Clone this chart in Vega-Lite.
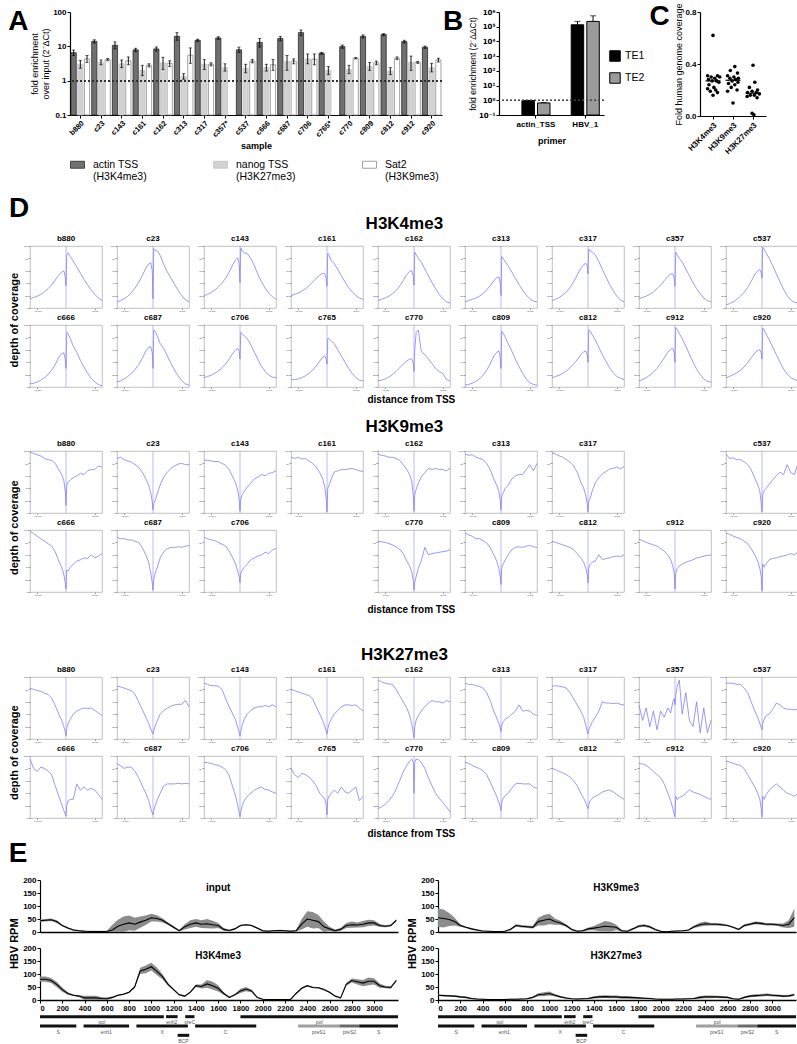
{
"$schema":"https://vega.github.io/schema/vega-lite/v6.json",
"background":"white",
"padding":{"left":1,"top":2,"right":0,"bottom":0},
"config":{
 "font":"Liberation Sans",
 "view":{"stroke":"#b0b0b0","strokeWidth":0.8},
 "axis":{"grid":false,"domainColor":"#000","tickColor":"#000","labelColor":"#000","titleColor":"#000"},
 "header":{"labelFontSize":8,"labelFontWeight":"bold","labelPadding":1,"labelFont":"Liberation Sans Narrow, Liberation Sans","labelColor":"#000"},
 "title":{"color":"#000"},
 "legend":{"labelColor":"#000"}
},
"resolve":{"scale":{"fill":"independent","stroke":"independent","color":"independent"}},
"datasets":{
 "qa":[
  {"s":"b880","t":"actin TSS (H3K4me3)","v":6.5,"lo":5.4,"hi":7.8},{"s":"b880","t":"nanog TSS (H3K27me3)","v":3.0,"lo":2.3,"hi":3.9},{"s":"b880","t":"Sat2 (H3K9me3)","v":4.3,"lo":3.4,"hi":5.4},
  {"s":"c23","t":"actin TSS (H3K4me3)","v":14,"lo":12.5,"hi":15.5},{"s":"c23","t":"nanog TSS (H3K27me3)","v":3.4,"lo":2.9,"hi":4.0},{"s":"c23","t":"Sat2 (H3K9me3)","v":4.1,"lo":3.8,"hi":4.4},
  {"s":"c143","t":"actin TSS (H3K4me3)","v":10.7,"lo":8.5,"hi":13.5},{"s":"c143","t":"nanog TSS (H3K27me3)","v":3.1,"lo":2.4,"hi":4.0},{"s":"c143","t":"Sat2 (H3K9me3)","v":3.8,"lo":2.9,"hi":4.9},
  {"s":"c161","t":"actin TSS (H3K4me3)","v":7.9,"lo":7.0,"hi":8.8},{"s":"c161","t":"nanog TSS (H3K27me3)","v":2.0,"lo":1.4,"hi":2.8},{"s":"c161","t":"Sat2 (H3K9me3)","v":2.8,"lo":2.5,"hi":3.1},
  {"s":"c162","t":"actin TSS (H3K4me3)","v":8.4,"lo":7.3,"hi":9.6},{"s":"c162","t":"nanog TSS (H3K27me3)","v":3.3,"lo":2.1,"hi":4.8},{"s":"c162","t":"Sat2 (H3K9me3)","v":3.2,"lo":2.6,"hi":3.8},
  {"s":"c313","t":"actin TSS (H3K4me3)","v":19.5,"lo":15,"hi":25},{"s":"c313","t":"nanog TSS (H3K27me3)","v":1.3,"lo":1.1,"hi":1.6},{"s":"c313","t":"Sat2 (H3K9me3)","v":5.5,"lo":3.2,"hi":9.0},
  {"s":"c317","t":"actin TSS (H3K4me3)","v":15,"lo":13.8,"hi":16.2},{"s":"c317","t":"nanog TSS (H3K27me3)","v":3.0,"lo":2.1,"hi":4.1},{"s":"c317","t":"Sat2 (H3K9me3)","v":3.0,"lo":2.7,"hi":3.3},
  {"s":"c357*","t":"actin TSS (H3K4me3)","v":17.5,"lo":16,"hi":19},{"s":"c357*","t":"nanog TSS (H3K27me3)","v":2.4,"lo":1.9,"hi":3.1},
  {"s":"c537","t":"actin TSS (H3K4me3)","v":7.9,"lo":6.6,"hi":9.5},{"s":"c537","t":"nanog TSS (H3K27me3)","v":2.3,"lo":1.7,"hi":3.0},{"s":"c537","t":"Sat2 (H3K9me3)","v":3.7,"lo":3.3,"hi":4.1},
  {"s":"c666","t":"actin TSS (H3K4me3)","v":13,"lo":9.5,"hi":17},{"s":"c666","t":"nanog TSS (H3K27me3)","v":2.4,"lo":1.9,"hi":3.0},{"s":"c666","t":"Sat2 (H3K9me3)","v":2.9,"lo":2.0,"hi":4.1},
  {"s":"c687","t":"actin TSS (H3K4me3)","v":17,"lo":14.5,"hi":19.5},{"s":"c687","t":"nanog TSS (H3K27me3)","v":3.6,"lo":2.0,"hi":5.4},{"s":"c687","t":"Sat2 (H3K9me3)","v":3.7,"lo":3.1,"hi":4.3},
  {"s":"c706","t":"actin TSS (H3K4me3)","v":25,"lo":20.5,"hi":30},{"s":"c706","t":"nanog TSS (H3K27me3)","v":4.3,"lo":3.1,"hi":6.0},{"s":"c706","t":"Sat2 (H3K9me3)","v":4.2,"lo":2.9,"hi":6.0},
  {"s":"c765*","t":"actin TSS (H3K4me3)","v":6.3,"lo":5.9,"hi":6.7},{"s":"c765*","t":"nanog TSS (H3K27me3)","v":2.0,"lo":1.5,"hi":2.6},
  {"s":"c770","t":"actin TSS (H3K4me3)","v":9.8,"lo":8.8,"hi":10.9},{"s":"c770","t":"nanog TSS (H3K27me3)","v":2.1,"lo":1.6,"hi":2.8},{"s":"c770","t":"Sat2 (H3K9me3)","v":4.5,"lo":4.3,"hi":4.7},
  {"s":"c809","t":"actin TSS (H3K4me3)","v":19.5,"lo":17.5,"hi":21.5},{"s":"c809","t":"nanog TSS (H3K27me3)","v":2.6,"lo":2.0,"hi":3.4},{"s":"c809","t":"Sat2 (H3K9me3)","v":3.3,"lo":2.9,"hi":3.7},
  {"s":"c812","t":"actin TSS (H3K4me3)","v":22,"lo":20.5,"hi":23.5},{"s":"c812","t":"nanog TSS (H3K27me3)","v":1.9,"lo":1.5,"hi":2.4},{"s":"c812","t":"Sat2 (H3K9me3)","v":4.5,"lo":4.1,"hi":4.9},
  {"s":"c912","t":"actin TSS (H3K4me3)","v":13.7,"lo":12.5,"hi":15},{"s":"c912","t":"nanog TSS (H3K27me3)","v":3.4,"lo":2.0,"hi":5.2},{"s":"c912","t":"Sat2 (H3K9me3)","v":3.4,"lo":3.2,"hi":3.6},
  {"s":"c920","t":"actin TSS (H3K4me3)","v":9.4,"lo":8.7,"hi":10.2},{"s":"c920","t":"nanog TSS (H3K27me3)","v":2.4,"lo":1.8,"hi":3.2},{"s":"c920","t":"Sat2 (H3K9me3)","v":4.0,"lo":3.5,"hi":4.5}
 ],
 "qb":[
  {"p":"actin_TSS","te":"TE1","v":0.95,"hi":0.98},{"p":"actin_TSS","te":"TE2","v":0.66,"hi":0.7},
  {"p":"HBV_1","te":"TE1","v":135000,"hi":230000},{"p":"HBV_1","te":"TE2","v":230000,"hi":550000}
 ],
 "qc":[
  {"m":"H3K4me3","v":0.62,"j":0.0},{"m":"H3K4me3","v":0.31,"j":-0.6},{"m":"H3K4me3","v":0.31,"j":0.5},{"m":"H3K4me3","v":0.30,"j":-0.2},{"m":"H3K4me3","v":0.30,"j":0.75},{"m":"H3K4me3","v":0.29,"j":0.2},{"m":"H3K4me3","v":0.28,"j":-0.5},{"m":"H3K4me3","v":0.27,"j":0.4},{"m":"H3K4me3","v":0.27,"j":-0.1},{"m":"H3K4me3","v":0.26,"j":0.65},{"m":"H3K4me3","v":0.24,"j":-0.45},{"m":"H3K4me3","v":0.22,"j":0.1},{"m":"H3K4me3","v":0.21,"j":-0.6},{"m":"H3K4me3","v":0.20,"j":0.3},{"m":"H3K4me3","v":0.19,"j":-0.3},{"m":"H3K4me3","v":0.18,"j":0.5},{"m":"H3K4me3","v":0.16,"j":0.0},
  {"m":"H3K9me3","v":0.38,"j":0.2},{"m":"H3K9me3","v":0.35,"j":-0.3},{"m":"H3K9me3","v":0.33,"j":0.5},{"m":"H3K9me3","v":0.31,"j":-0.6},{"m":"H3K9me3","v":0.30,"j":0.1},{"m":"H3K9me3","v":0.29,"j":0.6},{"m":"H3K9me3","v":0.29,"j":-0.35},{"m":"H3K9me3","v":0.28,"j":0.3},{"m":"H3K9me3","v":0.27,"j":-0.1},{"m":"H3K9me3","v":0.26,"j":0.55},{"m":"H3K9me3","v":0.25,"j":-0.5},{"m":"H3K9me3","v":0.24,"j":0.2},{"m":"H3K9me3","v":0.22,"j":-0.2},{"m":"H3K9me3","v":0.20,"j":0.45},{"m":"H3K9me3","v":0.19,"j":-0.6},{"m":"H3K9me3","v":0.10,"j":0.0},
  {"m":"H3K27me3","v":0.39,"j":0.0},{"m":"H3K27me3","v":0.26,"j":0.2},{"m":"H3K27me3","v":0.22,"j":-0.4},{"m":"H3K27me3","v":0.20,"j":0.5},{"m":"H3K27me3","v":0.19,"j":-0.1},{"m":"H3K27me3","v":0.18,"j":0.35},{"m":"H3K27me3","v":0.18,"j":-0.6},{"m":"H3K27me3","v":0.17,"j":0.7},{"m":"H3K27me3","v":0.16,"j":-0.3},{"m":"H3K27me3","v":0.16,"j":0.15},{"m":"H3K27me3","v":0.15,"j":-0.65},{"m":"H3K27me3","v":0.14,"j":0.45},{"m":"H3K27me3","v":0.02,"j":-0.1},{"m":"H3K27me3","v":0.01,"j":0.1}
 ],
 "k4":[
  {"s":"b880","x":[-2500,-2250,-2000,-1750,-1500,-1250,-1000,-750,-500,-300,-150,-50,0,50,150,300,500,750,1000,1250,1500,1750,2000,2250,2500],"y":[15,17,19,22,26,31,37,45,53,58,60,50,36,85,89,83,76,66,56,46,37,29,22,16,12]},
  {"s":"c23","x":[-2500,-2250,-2000,-1750,-1500,-1250,-1000,-750,-500,-300,-150,-50,0,50,150,300,500,750,1000,1250,1500,1750,2000,2250,2500],"y":[10,12,15,19,25,32,41,52,64,71,73,60,15,96,93,92,85,70,58,48,38,28,20,13,10]},
  {"s":"c143","x":[-2500,-2250,-2000,-1750,-1500,-1250,-1000,-750,-500,-300,-150,-50,0,50,150,300,500,750,1000,1250,1500,1750,2000,2250,2500],"y":[20,22,25,29,34,40,48,58,70,78,81,70,41,97,92,89,88,80,68,54,42,32,24,18,14]},
  {"s":"c161","x":[-2500,-2250,-2000,-1750,-1500,-1250,-1000,-750,-500,-300,-150,-50,0,50,150,300,500,750,1000,1250,1500,1750,2000,2250,2500],"y":[20,22,24,27,31,36,42,48,53,56,55,47,35,88,85,76,72,62,52,42,33,26,20,16,14]},
  {"s":"c162","x":[-2500,-2250,-2000,-1750,-1500,-1250,-1000,-750,-500,-300,-150,-50,0,50,150,300,500,750,1000,1250,1500,1750,2000,2250,2500],"y":[12,14,16,19,23,28,35,44,54,59,60,52,37,90,86,80,74,63,52,41,31,22,15,10,8]},
  {"s":"c313","x":[-2500,-2250,-2000,-1750,-1500,-1250,-1000,-750,-500,-300,-150,-50,0,50,150,300,500,750,1000,1250,1500,1750,2000,2250,2500],"y":[10,12,14,16,19,23,29,36,44,49,50,40,20,83,80,74,68,58,48,38,29,21,15,11,10]},
  {"s":"c317","x":[-2500,-2250,-2000,-1750,-1500,-1250,-1000,-750,-500,-300,-150,-50,0,50,150,300,500,750,1000,1250,1500,1750,2000,2250,2500],"y":[12,14,17,21,26,33,42,53,64,70,72,68,55,95,92,90,86,75,62,50,38,28,19,13,10]},
  {"s":"c357","x":[-2500,-2250,-2000,-1750,-1500,-1250,-1000,-750,-500,-300,-150,-50,0,50,150,300,500,750,1000,1250,1500,1750,2000,2250,2500],"y":[15,17,19,22,26,31,37,44,51,55,55,47,35,90,86,80,74,63,52,41,31,23,16,12,10]},
  {"s":"c537","x":[-2500,-2250,-2000,-1750,-1500,-1250,-1000,-750,-500,-300,-150,-50,0,50,150,300,500,750,1000,1250,1500,1750,2000,2250,2500],"y":[5,7,10,14,19,25,33,43,54,60,62,57,48,98,95,88,80,68,55,42,30,20,13,9,8]},
  {"s":"c666","x":[-2500,-2250,-2000,-1750,-1500,-1250,-1000,-750,-500,-300,-150,-50,0,50,150,300,500,750,1000,1250,1500,1750,2000,2250,2500],"y":[5,6,8,11,15,20,27,36,48,54,55,45,30,88,86,78,66,56,43,32,22,14,8,4,2]},
  {"s":"c687","x":[-2500,-2250,-2000,-1750,-1500,-1250,-1000,-750,-500,-300,-150,-50,0,50,150,300,500,750,1000,1250,1500,1750,2000,2250,2500],"y":[8,10,13,17,22,28,36,46,58,64,65,55,30,92,90,82,70,62,50,38,27,18,10,5,3]},
  {"s":"c706","x":[-2500,-2250,-2000,-1750,-1500,-1250,-1000,-750,-500,-300,-150,-50,0,50,150,300,500,750,1000,1250,1500,1750,2000,2250,2500],"y":[15,17,19,22,26,31,37,45,54,60,62,57,45,88,86,82,78,68,56,44,33,25,19,16,15]},
  {"s":"c765","x":[-2500,-2250,-2000,-1750,-1500,-1250,-1000,-750,-500,-300,-150,-50,0,50,150,300,500,750,1000,1250,1500,1750,2000,2250,2500],"y":[12,12,13,15,18,22,27,34,42,48,50,45,37,78,78,74,70,60,50,40,30,22,15,11,10]},
  {"s":"c770","x":[-2500,-2250,-2000,-1750,-1500,-1250,-1000,-750,-500,-300,-150,-50,0,50,150,300,500,750,1000,1250,1500,1750,2000,2250,2500],"y":[10,11,13,16,20,25,31,37,42,45,45,38,25,60,88,92,58,52,45,38,30,25,22,12,10]},
  {"s":"c809","x":[-2500,-2250,-2000,-1750,-1500,-1250,-1000,-750,-500,-300,-150,-50,0,50,150,300,500,750,1000,1250,1500,1750,2000,2250,2500],"y":[3,4,6,9,13,19,27,37,50,56,58,48,30,90,87,80,70,58,45,33,22,13,7,4,3]},
  {"s":"c812","x":[-2500,-2250,-2000,-1750,-1500,-1250,-1000,-750,-500,-300,-150,-50,0,50,150,300,500,750,1000,1250,1500,1750,2000,2250,2500],"y":[15,17,19,22,26,31,37,44,52,57,58,52,40,92,90,84,76,64,52,41,31,23,17,14,12]},
  {"s":"c912","x":[-2500,-2250,-2000,-1750,-1500,-1250,-1000,-750,-500,-300,-150,-50,0,50,150,300,500,750,1000,1250,1500,1750,2000,2250,2500],"y":[10,12,15,19,24,30,38,47,56,61,62,55,40,96,93,86,78,66,53,40,29,20,13,9,8]},
  {"s":"c920","x":[-2500,-2250,-2000,-1750,-1500,-1250,-1000,-750,-500,-300,-150,-50,0,50,150,300,500,750,1000,1250,1500,1750,2000,2250,2500],"y":[15,17,20,23,27,32,39,47,55,59,60,55,45,95,92,85,76,64,52,40,29,21,15,12,10]}
 ],
 "k9":[
  {"s":"b880","x":[-2500,-2250,-2000,-1750,-1500,-1250,-1000,-750,-500,-300,-150,-50,0,50,150,300,500,750,1000,1250,1500,1750,2000,2250,2500],"y":[98,96,94,92,88,86,85,80,70,62,52,35,12,45,50,53,57,60,64,62,68,70,70,76,74]},
  {"s":"c23","x":[-2500,-2250,-2000,-1750,-1500,-1250,-1000,-750,-500,-300,-150,-50,0,50,150,300,500,750,1000,1250,1500,1750,2000,2250,2500],"y":[88,90,86,84,82,78,74,66,55,45,32,18,5,15,20,32,45,58,66,72,76,79,80,78,78]},
  {"s":"c143","x":[-2500,-2250,-2000,-1750,-1500,-1250,-1000,-750,-500,-300,-150,-50,0,50,150,300,500,750,1000,1250,1500,1750,2000,2250,2500],"y":[85,85,84,83,83,80,77,70,58,48,36,20,3,22,30,35,42,48,55,58,62,60,64,65,68]},
  {"s":"c161","x":[-2500,-2250,-2000,-1750,-1500,-1250,-1000,-750,-500,-300,-150,-50,0,50,150,300,500,750,1000,1250,1500,1750,2000,2250,2500],"y":[90,88,90,87,88,84,80,74,65,55,42,22,2,40,45,55,66,68,70,70,71,72,70,68,67]},
  {"s":"c162","x":[-2500,-2250,-2000,-1750,-1500,-1250,-1000,-750,-500,-300,-150,-50,0,50,150,300,500,750,1000,1250,1500,1750,2000,2250,2500],"y":[95,93,92,90,90,88,85,78,70,62,50,28,3,30,38,48,58,65,72,70,72,70,70,68,72]},
  {"s":"c313","x":[-2500,-2250,-2000,-1750,-1500,-1250,-1000,-750,-500,-300,-150,-50,0,50,150,300,500,750,1000,1250,1500,1750,2000,2250,2500],"y":[95,93,94,90,88,86,80,70,55,45,35,20,5,28,32,40,45,55,60,62,62,70,78,68,80]},
  {"s":"c317","x":[-2500,-2250,-2000,-1750,-1500,-1250,-1000,-750,-500,-300,-150,-50,0,50,150,300,500,750,1000,1250,1500,1750,2000,2250,2500],"y":[97,95,92,90,86,82,76,66,50,40,28,14,2,18,24,36,48,57,63,67,71,72,74,71,75]},
  {"s":"c537","x":[-2500,-2250,-2000,-1750,-1500,-1250,-1000,-750,-500,-300,-150,-50,0,50,150,300,500,750,1000,1250,1500,1750,2000,2250,2500],"y":[95,88,89,86,86,83,78,70,56,46,35,15,2,30,36,40,46,54,60,66,62,78,65,62,80]},
  {"s":"c666","x":[-2500,-2250,-2000,-1750,-1500,-1250,-1000,-750,-500,-300,-150,-50,0,50,150,300,500,750,1000,1250,1500,1750,2000,2250,2500],"y":[98,94,90,86,82,78,74,65,50,40,28,15,5,35,34,40,45,50,52,55,54,60,55,58,62]},
  {"s":"c687","x":[-2500,-2250,-2000,-1750,-1500,-1250,-1000,-750,-500,-300,-150,-50,0,50,150,300,500,750,1000,1250,1500,1750,2000,2250,2500],"y":[88,86,86,84,84,82,80,72,60,48,30,15,3,20,30,40,55,65,70,72,72,73,72,74,75]},
  {"s":"c706","x":[-2500,-2250,-2000,-1750,-1500,-1250,-1000,-750,-500,-300,-150,-50,0,50,150,300,500,750,1000,1250,1500,1750,2000,2250,2500],"y":[88,86,84,83,80,77,74,66,55,45,32,24,15,30,35,40,45,52,55,58,60,64,62,68,70]},
  {"s":"c770","x":[-2500,-2250,-2000,-1750,-1500,-1250,-1000,-750,-500,-300,-150,-50,0,50,150,300,500,750,1000,1250,1500,1750,2000,2250,2500],"y":[82,81,80,78,76,73,69,62,50,42,32,18,3,15,25,38,50,72,60,62,63,64,65,66,68]},
  {"s":"c809","x":[-2500,-2250,-2000,-1750,-1500,-1250,-1000,-750,-500,-300,-150,-50,0,50,150,300,500,750,1000,1250,1500,1750,2000,2250,2500],"y":[95,92,90,86,86,83,79,72,60,50,38,25,12,40,45,52,60,68,72,73,72,74,75,73,72]},
  {"s":"c812","x":[-2500,-2250,-2000,-1750,-1500,-1250,-1000,-750,-500,-300,-150,-50,0,50,150,300,500,750,1000,1250,1500,1750,2000,2250,2500],"y":[82,80,78,76,74,72,68,62,55,48,38,28,15,38,45,48,50,60,52,54,55,57,58,57,60]},
  {"s":"c912","x":[-2500,-2250,-2000,-1750,-1500,-1250,-1000,-750,-500,-300,-150,-50,0,50,150,300,500,750,1000,1250,1500,1750,2000,2250,2500],"y":[85,83,80,78,76,74,70,66,60,52,42,30,5,30,38,42,45,48,50,52,55,56,58,59,60]},
  {"s":"c920","x":[-2500,-2250,-2000,-1750,-1500,-1250,-1000,-750,-500,-300,-150,-50,0,50,150,300,500,750,1000,1250,1500,1750,2000,2250,2500],"y":[95,93,90,88,86,82,78,70,60,50,38,25,2,45,40,46,52,54,55,57,58,60,62,60,65]}
 ],
 "k27":[
  {"s":"b880","x":[-2500,-2250,-2000,-1750,-1500,-1250,-1000,-750,-500,-300,-150,-50,0,50,150,300,500,750,1000,1250,1500,1750,2000,2250,2500],"y":[82,80,78,77,74,72,66,54,40,30,20,12,5,18,25,32,40,45,48,50,49,50,46,42,38]},
  {"s":"c23","x":[-2500,-2250,-2000,-1750,-1500,-1250,-1000,-750,-500,-300,-150,-50,0,50,150,300,500,750,1000,1250,1500,1750,2000,2250,2500],"y":[85,84,82,80,78,72,60,48,35,25,16,10,8,14,20,30,40,46,50,53,55,56,56,62,52]},
  {"s":"c143","x":[-2500,-2250,-2000,-1750,-1500,-1250,-1000,-750,-500,-300,-150,-50,0,50,150,300,500,750,1000,1250,1500,1750,2000,2250,2500],"y":[90,88,86,86,85,80,65,52,40,30,18,10,5,12,22,32,40,46,50,52,52,54,52,55,52]},
  {"s":"c161","x":[-2500,-2250,-2000,-1750,-1500,-1250,-1000,-750,-500,-300,-150,-50,0,50,150,300,500,750,1000,1250,1500,1750,2000,2250,2500],"y":[80,78,76,74,72,70,65,52,40,30,20,12,8,16,25,32,40,46,52,55,55,54,55,50,45]},
  {"s":"c162","x":[-2500,-2250,-2000,-1750,-1500,-1250,-1000,-750,-500,-300,-150,-50,0,50,150,300,500,750,1000,1250,1500,1750,2000,2250,2500],"y":[95,92,90,89,88,80,70,60,50,38,24,10,2,20,30,38,45,52,58,62,60,60,58,62,60]},
  {"s":"c313","x":[-2500,-2250,-2000,-1750,-1500,-1250,-1000,-750,-500,-300,-150,-50,0,50,150,300,500,750,1000,1250,1500,1750,2000,2250,2500],"y":[90,88,88,86,85,82,75,62,45,34,25,18,12,22,28,32,35,40,45,55,45,46,45,40,38]},
  {"s":"c317","x":[-2500,-2250,-2000,-1750,-1500,-1250,-1000,-750,-500,-300,-150,-50,0,50,150,300,500,750,1000,1250,1500,1750,2000,2250,2500],"y":[85,86,85,84,82,75,65,55,45,35,22,12,8,15,20,28,35,45,60,58,58,57,58,56,55]},
  {"s":"c357","x":[-2500,-2250,-2000,-1750,-1500,-1250,-1000,-750,-500,-300,-150,-50,0,50,150,300,500,750,1000,1250,1500,1750,2000,2250,2500],"y":[55,30,50,20,45,15,45,35,50,42,60,65,55,70,85,95,40,75,30,20,60,10,50,10,30]},
  {"s":"c537","x":[-2500,-2250,-2000,-1750,-1500,-1250,-1000,-750,-500,-300,-150,-50,0,50,150,300,500,750,1000,1250,1500,1750,2000,2250,2500],"y":[90,90,90,88,88,82,75,60,45,35,25,18,15,25,32,38,40,48,58,55,50,48,48,47,48]},
  {"s":"c666","x":[-2500,-2250,-2000,-1750,-1500,-1250,-1000,-750,-500,-300,-150,-50,0,50,150,300,500,750,1000,1250,1500,1750,2000,2250,2500],"y":[95,80,75,82,80,76,70,52,35,22,12,6,3,20,28,30,30,55,45,50,45,48,45,38,30]},
  {"s":"c687","x":[-2500,-2250,-2000,-1750,-1500,-1250,-1000,-750,-500,-300,-150,-50,0,50,150,300,500,750,1000,1250,1500,1750,2000,2250,2500],"y":[88,84,80,82,82,75,65,52,40,28,15,8,5,12,20,30,40,52,55,55,55,56,55,56,55]},
  {"s":"c706","x":[-2500,-2250,-2000,-1750,-1500,-1250,-1000,-750,-500,-300,-150,-50,0,50,150,300,500,750,1000,1250,1500,1750,2000,2250,2500],"y":[90,89,88,86,85,82,78,68,50,35,20,8,2,10,20,28,35,40,45,48,50,46,45,42,40]},
  {"s":"c765","x":[-2500,-2250,-2000,-1750,-1500,-1250,-1000,-750,-500,-300,-150,-50,0,50,150,300,500,750,1000,1250,1500,1750,2000,2250,2500],"y":[80,70,65,72,70,66,60,52,40,35,30,20,5,30,35,40,45,40,50,42,40,45,50,28,35]},
  {"s":"c770","x":[-2500,-2250,-2000,-1750,-1500,-1250,-1000,-750,-500,-300,-150,-50,0,50,150,300,500,750,1000,1250,1500,1750,2000,2250,2500],"y":[15,18,22,28,35,46,60,74,85,92,95,90,40,90,95,94,90,80,65,52,40,32,25,18,10]},
  {"s":"c809","x":[-2500,-2250,-2000,-1750,-1500,-1250,-1000,-750,-500,-300,-150,-50,0,50,150,300,500,750,1000,1250,1500,1750,2000,2250,2500],"y":[90,88,85,82,80,76,70,58,45,35,25,18,12,25,32,36,40,48,55,56,55,55,55,50,48]},
  {"s":"c812","x":[-2500,-2250,-2000,-1750,-1500,-1250,-1000,-750,-500,-300,-150,-50,0,50,150,300,500,750,1000,1250,1500,1750,2000,2250,2500],"y":[80,78,75,73,70,66,60,52,40,32,24,18,15,22,28,32,35,38,42,44,45,42,38,34,30]},
  {"s":"c912","x":[-2500,-2250,-2000,-1750,-1500,-1250,-1000,-750,-500,-300,-150,-50,0,50,150,300,500,750,1000,1250,1500,1750,2000,2250,2500],"y":[88,87,85,80,75,70,65,55,40,28,15,6,2,35,30,33,35,40,45,42,40,38,35,32,30]},
  {"s":"c920","x":[-2500,-2250,-2000,-1750,-1500,-1250,-1000,-750,-500,-300,-150,-50,0,50,150,300,500,750,1000,1250,1500,1750,2000,2250,2500],"y":[92,90,88,86,85,80,70,60,50,40,30,15,2,35,30,38,45,50,55,50,45,40,38,35,40]}
 ],
 "hbv":[
  {"t":"input","x":[0,50,100,150,200,250,300,350,400,450,500,550,600,650,700,750,800,850,900,950,1000,1050,1100,1150,1200,1250,1300,1350,1400,1450,1500,1550,1600,1650,1700,1750,1800,1850,1900,1950,2000,2050,2100,2150,2200,2250,2300,2350,2400,2450,2500,2550,2600,2650,2700,2750,2800,2850,2900,2950,3000,3050,3100,3150,3200],
   "y":[43,45,47,40,25,15,8,5,3,2,2,2,2,8,22,30,35,30,38,45,55,52,45,32,18,5,20,30,35,30,32,28,25,10,6,12,25,28,25,15,5,3,5,6,5,3,5,30,50,45,40,20,12,5,10,25,28,27,30,35,35,25,22,25,45],
   "d":[5,5,5,5,3,3,3,3,3,3,3,3,3,20,25,30,28,25,22,18,15,12,8,5,5,3,10,15,15,15,18,15,10,5,3,3,3,3,3,3,3,3,3,3,3,3,3,20,30,32,25,20,8,5,5,10,12,10,12,12,10,6,4,4,5]},
  {"t":"H3K4me3","x":[0,50,100,150,200,250,300,350,400,450,500,550,600,650,700,750,800,850,900,950,1000,1050,1100,1150,1200,1250,1300,1350,1400,1450,1500,1550,1600,1650,1700,1750,1800,1850,1900,1950,2000,2050,2100,2150,2200,2250,2300,2350,2400,2450,2500,2550,2600,2650,2700,2750,2800,2850,2900,2950,3000,3050,3100,3150,3200],
   "y":[80,80,75,60,40,25,18,15,8,8,8,6,5,10,18,22,30,50,112,118,128,110,90,60,40,20,15,30,55,52,62,55,45,25,10,20,35,42,35,10,3,2,2,2,2,2,25,45,55,48,47,40,30,15,8,60,75,70,65,72,72,55,50,48,75],
   "d":[10,10,10,10,8,5,3,3,8,8,8,6,5,3,3,3,3,5,12,15,15,15,10,5,3,3,3,3,5,8,15,15,12,5,3,3,8,8,5,3,2,2,2,2,2,2,3,3,3,3,3,3,3,3,3,5,8,10,12,15,12,8,5,5,5]},
  {"t":"H3K9me3","x":[0,50,100,150,200,250,300,350,400,450,500,550,600,650,700,750,800,850,900,950,1000,1050,1100,1150,1200,1250,1300,1350,1400,1450,1500,1550,1600,1650,1700,1750,1800,1850,1900,1950,2000,2050,2100,2150,2200,2250,2300,2350,2400,2450,2500,2550,2600,2650,2700,2750,2800,2850,2900,2950,3000,3050,3100,3150,3200],
   "y":[55,52,48,40,25,18,12,8,4,3,2,2,3,10,25,22,20,18,40,45,50,40,35,25,10,3,5,12,15,18,22,20,18,5,3,12,22,25,20,10,3,1,3,4,5,8,20,28,32,30,30,28,25,18,10,25,30,35,33,30,30,28,25,30,55],
   "d":[35,35,25,15,5,3,3,3,2,2,2,2,2,3,5,5,5,5,15,20,20,12,8,5,3,3,3,5,8,15,20,18,10,3,2,3,5,5,5,3,2,2,2,2,2,2,5,8,8,5,5,5,3,3,3,5,5,5,5,5,5,5,8,15,35]},
  {"t":"H3K27me3","x":[0,50,100,150,200,250,300,350,400,450,500,550,600,650,700,750,800,850,900,950,1000,1050,1100,1150,1200,1250,1300,1350,1400,1450,1500,1550,1600,1650,1700,1750,1800,1850,1900,1950,2000,2050,2100,2150,2200,2250,2300,2350,2400,2450,2500,2550,2600,2650,2700,2750,2800,2850,2900,2950,3000,3050,3100,3150,3200],
   "y":[18,17,16,15,12,10,6,4,3,2,2,2,2,3,3,4,5,10,20,22,25,18,12,8,5,4,5,6,10,12,13,12,12,10,10,9,8,7,6,4,3,3,3,4,4,5,6,10,12,12,12,11,10,5,3,10,15,17,18,20,18,17,15,16,20],
   "d":[3,3,3,3,3,3,3,2,2,2,2,2,2,2,2,2,2,3,6,8,8,5,3,3,2,2,2,3,4,5,5,5,5,5,5,4,4,3,3,2,2,2,2,2,2,2,3,5,5,5,4,4,3,2,2,3,4,5,5,5,5,4,4,4,4]}
 ],
 "genes":[
  {"f":"pol","lane":1,"a":0,"b":1112},{"f":"enh2","lane":1,"a":1132,"b":1236},{"f":"preC","lane":1,"a":1304,"b":1387},{"f":"pol","lane":1,"a":1800,"b":3215},
  {"f":"S","lane":2,"a":0,"b":326},{"f":"enh1","lane":2,"a":391,"b":800},{"f":"X","lane":2,"a":866,"b":1328},{"f":"C","lane":2,"a":1393,"b":1942},{"f":"preS1","lane":2,"a":2318,"b":2689},{"f":"preS2","lane":2,"a":2689,"b":2867},{"f":"S","lane":2,"a":2867,"b":3215},
  {"f":"BCP","lane":3,"a":1236,"b":1340}
 ]
},
"vconcat":[
 {"hconcat":[
  {"width":1,"height":1,"view":{"stroke":null},"data":{"values":[{"a":0}]},"mark":{"type":"point","opacity":0},"encoding":{}},
  {"hconcat":[
  {"width":372,"height":103,"view":{"stroke":null},
   "title":{"text":"A","orient":"left","anchor":"end","angle":0,"fontSize":28,"fontWeight":"bold","baseline":"top","offset":-18},
   "data":{"name":"qa"},
   "layer":[
    {"mark":{"type":"bar","strokeWidth":0.8},
     "encoding":{
      "x":{"field":"s","type":"nominal","sort":null,"scale":{"paddingInner":0.1,"paddingOuter":0.05},"axis":{"title":"sample","labelAngle":-45,"labelFontSize":7.5,"labelFontWeight":"bold","titleFontSize":9,"titleFontWeight":"bold","tickSize":3,"labelPadding":1,"titlePadding":3,"domainWidth":1.2}},
      "xOffset":{"field":"t","type":"nominal","sort":null,"scale":{"paddingInner":0.22}},
      "y":{"field":"v","type":"quantitative","scale":{"type":"log","domain":[0.1,100]},"axis":{"values":[0.1,1,10,100],"format":"~g","labelFontSize":8,"labelFontWeight":"bold","tickSize":3,"labelPadding":1,"domainWidth":1.2,"title":["fold enrichment","over input (2⁻ΔCt)"],"titleFontSize":9,"titleFontWeight":"normal","titlePadding":2}},
      "y2":{"datum":0.1},
      "fill":{"field":"t","type":"nominal","scale":{"domain":["actin TSS (H3K4me3)","nanog TSS (H3K27me3)","Sat2 (H3K9me3)"],"range":["#707070","#d2d2d2","#ffffff"]},
        "legend":{"orient":"bottom","direction":"horizontal","title":null,"columns":3,"columnPadding":64,"labelExpr":"[split(datum.label,' (')[0], '(' + split(datum.label,' (')[1]]","labelFontSize":10.5,"symbolType":"M-1,-0.5H1V0.5H-1Z","symbolSize":196,"symbolStrokeColor":"#555","symbolStrokeWidth":0.8,"offset":6,"labelOffset":8}},
      "stroke":{"field":"t","type":"nominal","scale":{"domain":["actin TSS (H3K4me3)","nanog TSS (H3K27me3)","Sat2 (H3K9me3)"],"range":["#2a2a2a","#c4c4c4","#8a8a8a"]},"legend":null}
     }},
    {"mark":{"type":"rule","strokeWidth":0.9,"color":"#000"},"encoding":{"x":{"field":"s","type":"nominal","sort":null},"xOffset":{"field":"t","type":"nominal","sort":null},"y":{"field":"lo","type":"quantitative"},"y2":{"field":"hi"}}},
    {"mark":{"type":"tick","size":3,"thickness":0.9,"color":"#000"},"encoding":{"x":{"field":"s","type":"nominal","sort":null},"xOffset":{"field":"t","type":"nominal","sort":null},"y":{"field":"lo","type":"quantitative"}}},
    {"mark":{"type":"tick","size":3,"thickness":0.9,"color":"#000"},"encoding":{"x":{"field":"s","type":"nominal","sort":null},"xOffset":{"field":"t","type":"nominal","sort":null},"y":{"field":"hi","type":"quantitative"}}},
    {"mark":{"type":"rule","strokeDash":[2,2],"strokeWidth":0.8,"color":"#333"},"encoding":{"y":{"datum":1}}}
   ]},
  {"hconcat":[
   {"width":105,"height":103,"view":{"stroke":null},
    "title":{"text":"B","orient":"left","anchor":"end","angle":0,"fontSize":28,"fontWeight":"bold","baseline":"top","offset":-15},
    "data":{"name":"qb"},
    "layer":[
     {"mark":{"type":"bar","stroke":"#000","strokeWidth":1},
      "encoding":{
       "x":{"field":"p","type":"nominal","sort":null,"scale":{"paddingInner":0.43,"paddingOuter":0.28,"align":0.83},"axis":{"title":"primer","labelAngle":0,"labelFontSize":8,"labelFontWeight":"bold","titleFontSize":9,"titleFontWeight":"bold","tickSize":3,"domainWidth":1.2,"titlePadding":8}},
       "xOffset":{"field":"te","type":"nominal","scale":{"paddingInner":0.2}},
       "y":{"field":"v","type":"quantitative","scale":{"type":"log","domain":[0.1,1000000]},"axis":{"values":[0.1,1,10,100,1000,10000,100000,1000000],"labelExpr":"'10' + (datum.value < 0.5 ? '⁻¹' : ['⁰','¹','²','³','⁴','⁵','⁶'][round(log(datum.value)/LN10)])","labelFont":"DejaVu Sans","labelFontSize":7,"labelFontWeight":"bold","tickSize":3,"labelPadding":1,"domainWidth":1.2,"title":"fold enrichment (2⁻ΔΔCt)","titleFontSize":8.5,"titleFontWeight":"normal","titlePadding":1}},
       "y2":{"datum":0.1},
       "fill":{"field":"te","type":"nominal","scale":{"range":["#000000","#9b9b9b"]},"legend":{"orient":"none","legendX":110,"legendY":38,"title":null,"symbolType":"square","symbolSize":110,"symbolStrokeColor":"#000","symbolStrokeWidth":1,"labelFontSize":10.5,"rowPadding":6}}
      }},
     {"mark":{"type":"rule","strokeWidth":1,"color":"#000"},"encoding":{"x":{"field":"p","type":"nominal","sort":null},"xOffset":{"field":"te","type":"nominal"},"y":{"field":"v","type":"quantitative"},"y2":{"field":"hi"}}},
     {"mark":{"type":"tick","size":6,"thickness":1,"color":"#000"},"encoding":{"x":{"field":"p","type":"nominal","sort":null},"xOffset":{"field":"te","type":"nominal"},"y":{"field":"hi","type":"quantitative"}}},
     {"mark":{"type":"rule","strokeDash":[2,2],"strokeWidth":0.8,"color":"#444"},"encoding":{"y":{"datum":1}}}
    ]},
   {"width":66,"height":104,"view":{"stroke":null},
    "title":{"text":"C","orient":"left","anchor":"end","angle":0,"fontSize":28,"fontWeight":"bold","baseline":"top","offset":-15},
    "data":{"name":"qc"},
    "layer":[
     {"mark":{"type":"circle","size":13,"color":"#000","opacity":1},
      "encoding":{
       "x":{"field":"m","type":"nominal","sort":["H3K4me3","H3K9me3","H3K27me3"],"scale":{"paddingInner":0.1,"paddingOuter":0.2},"axis":{"title":null,"labelAngle":-45,"labelFontSize":8,"labelFontWeight":"bold","tickSize":3,"domainWidth":1.2}},
       "xOffset":{"field":"j","type":"quantitative","scale":{"domain":[-1,1]}},
       "y":{"field":"v","type":"quantitative","scale":{"domain":[0,0.8]},"axis":{"values":[0,0.2,0.4,0.6,0.8],"format":".1f","labelFontSize":8,"labelFontWeight":"bold","tickSize":3,"labelPadding":1,"domainWidth":1.2,"title":"Fold human genome coverage","titleFontSize":9,"titleFontWeight":"normal","titlePadding":1}}
      }},
     {"mark":{"type":"tick","size":15,"thickness":1.2,"color":"#000"},"encoding":{"x":{"field":"m","type":"nominal","sort":["H3K4me3","H3K9me3","H3K27me3"]},"y":{"aggregate":"median","field":"v","type":"quantitative"}}}
    ]}
  ],"spacing":4,"resolve":{"scale":{"fill":"independent"}}}
  ],"spacing":0,"resolve":{"scale":{"fill":"independent","stroke":"independent"}}}
 ],"spacing":0,"resolve":{"scale":{"fill":"independent","stroke":"independent"}}},
 {"vconcat":[
 {"hconcat":[
  {"width":1,"height":1,"view":{"stroke":null},"data":{"values":[{"a":0}]},"mark":{"type":"point","opacity":0},"encoding":{}},
  {"title":{"text":"D","anchor":"start","fontSize":28,"fontWeight":"bold","offset":-8},
  "vconcat":[
   {"title":{"text":"H3K4me3","fontSize":17,"fontWeight":"bold","anchor":"middle","offset":2},
    "vconcat":[{"title":{"text":"depth of coverage","orient":"left","fontSize":11,"fontWeight":"bold","anchor":"middle","offset":3},
     "vconcat":[{"title":{"text":"distance from TSS","orient":"bottom","fontSize":10,"fontWeight":"bold","anchor":"middle","offset":4},
      "vconcat":[
       {"data":{"name":"k4"},"transform":[{"filter":{"field":"s","oneOf":["b880","c23","c143","c161","c162","c313","c317","c357","c537"]}},{"flatten":["x","y"]}],
        "facet":{"column":{"field":"s","type":"nominal","sort":["b880","c23","c143","c161","c162","c313","c317","c357","c537"],"title":null}},"spacing":{"column":5},
        "spec":{"width":72,"height":62,"layer":[
         {"mark":{"type":"line","color":"#6e6ef0","strokeWidth":0.7},"encoding":{"x":{"field":"x","type":"quantitative","scale":{"domain":[-2500,2500],"nice":false},"axis":{"values":[-2000,-1000,0,1000,2000],"title":null,"labelFontSize":2.5,"tickSize":1.5,"labelPadding":0,"tickColor":"#999","labelColor":"#444","domain":false}},"y":{"field":"y","type":"quantitative","scale":{"domain":[0,100],"nice":false},"axis":{"tickCount":7,"title":null,"labelFontSize":2.5,"tickSize":2,"labelPadding":0.5,"tickColor":"#999","labelColor":"#444","domain":false}}}},
         {"transform":[{"filter":"datum.x === 0"}],"mark":{"type":"rule","color":"#8f8ff2","strokeWidth":0.6},"encoding":{"x":{"field":"x","type":"quantitative"}}}]},
        "resolve":{"axis":{"x":"independent","y":"independent"}}},
       {"data":{"name":"k4"},"transform":[{"filter":{"field":"s","oneOf":["c666","c687","c706","c765","c770","c809","c812","c912","c920"]}},{"flatten":["x","y"]}],
        "facet":{"column":{"field":"s","type":"nominal","sort":["c666","c687","c706","c765","c770","c809","c812","c912","c920"],"title":null}},"spacing":{"column":5},
        "spec":{"width":72,"height":62,"layer":[
         {"mark":{"type":"line","color":"#6e6ef0","strokeWidth":0.7},"encoding":{"x":{"field":"x","type":"quantitative","scale":{"domain":[-2500,2500],"nice":false},"axis":{"values":[-2000,-1000,0,1000,2000],"title":null,"labelFontSize":2.5,"tickSize":1.5,"labelPadding":0,"tickColor":"#999","labelColor":"#444","domain":false}},"y":{"field":"y","type":"quantitative","scale":{"domain":[0,100],"nice":false},"axis":{"tickCount":7,"title":null,"labelFontSize":2.5,"tickSize":2,"labelPadding":0.5,"tickColor":"#999","labelColor":"#444","domain":false}}}},
         {"transform":[{"filter":"datum.x === 0"}],"mark":{"type":"rule","color":"#8f8ff2","strokeWidth":0.6},"encoding":{"x":{"field":"x","type":"quantitative"}}}]},
        "resolve":{"axis":{"x":"independent","y":"independent"}}}
      ],"spacing":1}]}]},
   {"vconcat":[
   {"title":{"text":"H3K9me3","fontSize":17,"fontWeight":"bold","anchor":"middle","offset":4},
    "vconcat":[{"title":{"text":"depth of coverage","orient":"left","fontSize":11,"fontWeight":"bold","anchor":"middle","offset":3},
     "vconcat":[{"title":{"text":"distance from TSS","orient":"bottom","fontSize":10,"fontWeight":"bold","anchor":"middle","offset":9},
      "vconcat":[
       {"hconcat":[
        {"data":{"name":"k9"},"transform":[{"filter":{"field":"s","oneOf":["b880","c23","c143","c161","c162","c313","c317"]}},{"flatten":["x","y"]}],
         "facet":{"column":{"field":"s","type":"nominal","sort":["b880","c23","c143","c161","c162","c313","c317"],"title":null}},"spacing":{"column":5},
         "spec":{"width":72,"height":62,"layer":[
          {"mark":{"type":"line","color":"#6e6ef0","strokeWidth":0.7},"encoding":{"x":{"field":"x","type":"quantitative","scale":{"domain":[-2500,2500],"nice":false},"axis":{"values":[-2000,-1000,0,1000,2000],"title":null,"labelFontSize":2.5,"tickSize":1.5,"labelPadding":0,"tickColor":"#999","labelColor":"#444","domain":false}},"y":{"field":"y","type":"quantitative","scale":{"domain":[0,100],"nice":false},"axis":{"tickCount":7,"title":null,"labelFontSize":2.5,"tickSize":2,"labelPadding":0.5,"tickColor":"#999","labelColor":"#444","domain":false}}}},
          {"transform":[{"filter":"datum.x === 0"}],"mark":{"type":"rule","color":"#8f8ff2","strokeWidth":0.6},"encoding":{"x":{"field":"x","type":"quantitative"}}}]},
         "resolve":{"axis":{"x":"independent","y":"independent"}}},
        {"data":{"name":"k9"},"transform":[{"filter":{"field":"s","oneOf":["c537"]}},{"flatten":["x","y"]}],
         "facet":{"column":{"field":"s","type":"nominal","sort":["c537"],"title":null}},"spacing":{"column":5},
         "spec":{"width":72,"height":62,"layer":[
          {"mark":{"type":"line","color":"#6e6ef0","strokeWidth":0.7},"encoding":{"x":{"field":"x","type":"quantitative","scale":{"domain":[-2500,2500],"nice":false},"axis":{"values":[-2000,-1000,0,1000,2000],"title":null,"labelFontSize":2.5,"tickSize":1.5,"labelPadding":0,"tickColor":"#999","labelColor":"#444","domain":false}},"y":{"field":"y","type":"quantitative","scale":{"domain":[0,100],"nice":false},"axis":{"tickCount":7,"title":null,"labelFontSize":2.5,"tickSize":2,"labelPadding":0.5,"tickColor":"#999","labelColor":"#444","domain":false}}}},
          {"transform":[{"filter":"datum.x === 0"}],"mark":{"type":"rule","color":"#8f8ff2","strokeWidth":0.6},"encoding":{"x":{"field":"x","type":"quantitative"}}}]},
         "resolve":{"axis":{"x":"independent","y":"independent"}}}
       ],"spacing":92},
       {"hconcat":[
        {"data":{"name":"k9"},"transform":[{"filter":{"field":"s","oneOf":["c666","c687","c706"]}},{"flatten":["x","y"]}],
         "facet":{"column":{"field":"s","type":"nominal","sort":["c666","c687","c706"],"title":null}},"spacing":{"column":5},
         "spec":{"width":72,"height":62,"layer":[
          {"mark":{"type":"line","color":"#6e6ef0","strokeWidth":0.7},"encoding":{"x":{"field":"x","type":"quantitative","scale":{"domain":[-2500,2500],"nice":false},"axis":{"values":[-2000,-1000,0,1000,2000],"title":null,"labelFontSize":2.5,"tickSize":1.5,"labelPadding":0,"tickColor":"#999","labelColor":"#444","domain":false}},"y":{"field":"y","type":"quantitative","scale":{"domain":[0,100],"nice":false},"axis":{"tickCount":7,"title":null,"labelFontSize":2.5,"tickSize":2,"labelPadding":0.5,"tickColor":"#999","labelColor":"#444","domain":false}}}},
          {"transform":[{"filter":"datum.x === 0"}],"mark":{"type":"rule","color":"#8f8ff2","strokeWidth":0.6},"encoding":{"x":{"field":"x","type":"quantitative"}}}]},
         "resolve":{"axis":{"x":"independent","y":"independent"}}},
        {"data":{"name":"k9"},"transform":[{"filter":{"field":"s","oneOf":["c770","c809","c812","c912","c920"]}},{"flatten":["x","y"]}],
         "facet":{"column":{"field":"s","type":"nominal","sort":["c770","c809","c812","c912","c920"],"title":null}},"spacing":{"column":5},
         "spec":{"width":72,"height":62,"layer":[
          {"mark":{"type":"line","color":"#6e6ef0","strokeWidth":0.7},"encoding":{"x":{"field":"x","type":"quantitative","scale":{"domain":[-2500,2500],"nice":false},"axis":{"values":[-2000,-1000,0,1000,2000],"title":null,"labelFontSize":2.5,"tickSize":1.5,"labelPadding":0,"tickColor":"#999","labelColor":"#444","domain":false}},"y":{"field":"y","type":"quantitative","scale":{"domain":[0,100],"nice":false},"axis":{"tickCount":7,"title":null,"labelFontSize":2.5,"tickSize":2,"labelPadding":0.5,"tickColor":"#999","labelColor":"#444","domain":false}}}},
          {"transform":[{"filter":"datum.x === 0"}],"mark":{"type":"rule","color":"#8f8ff2","strokeWidth":0.6},"encoding":{"x":{"field":"x","type":"quantitative"}}}]},
         "resolve":{"axis":{"x":"independent","y":"independent"}}}
       ],"spacing":92}
      ],"spacing":1}]}]},
   {"title":{"text":"H3K27me3","fontSize":17,"fontWeight":"bold","anchor":"middle","offset":2},
    "vconcat":[{"title":{"text":"depth of coverage","orient":"left","fontSize":11,"fontWeight":"bold","anchor":"middle","offset":3},
     "vconcat":[{"title":{"text":"distance from TSS","orient":"bottom","fontSize":10,"fontWeight":"bold","anchor":"middle","offset":7},
      "vconcat":[
       {"data":{"name":"k27"},"transform":[{"filter":{"field":"s","oneOf":["b880","c23","c143","c161","c162","c313","c317","c357","c537"]}},{"flatten":["x","y"]}],
        "facet":{"column":{"field":"s","type":"nominal","sort":["b880","c23","c143","c161","c162","c313","c317","c357","c537"],"title":null}},"spacing":{"column":5},
        "spec":{"width":72,"height":62,"layer":[
         {"mark":{"type":"line","color":"#6e6ef0","strokeWidth":0.7},"encoding":{"x":{"field":"x","type":"quantitative","scale":{"domain":[-2500,2500],"nice":false},"axis":{"values":[-2000,-1000,0,1000,2000],"title":null,"labelFontSize":2.5,"tickSize":1.5,"labelPadding":0,"tickColor":"#999","labelColor":"#444","domain":false}},"y":{"field":"y","type":"quantitative","scale":{"domain":[0,100],"nice":false},"axis":{"tickCount":7,"title":null,"labelFontSize":2.5,"tickSize":2,"labelPadding":0.5,"tickColor":"#999","labelColor":"#444","domain":false}}}},
         {"transform":[{"filter":"datum.x === 0"}],"mark":{"type":"rule","color":"#8f8ff2","strokeWidth":0.6},"encoding":{"x":{"field":"x","type":"quantitative"}}}]},
        "resolve":{"axis":{"x":"independent","y":"independent"}}},
       {"data":{"name":"k27"},"transform":[{"filter":{"field":"s","oneOf":["c666","c687","c706","c765","c770","c809","c812","c912","c920"]}},{"flatten":["x","y"]}],
        "facet":{"column":{"field":"s","type":"nominal","sort":["c666","c687","c706","c765","c770","c809","c812","c912","c920"],"title":null}},"spacing":{"column":5},
        "spec":{"width":72,"height":62,"layer":[
         {"mark":{"type":"line","color":"#6e6ef0","strokeWidth":0.7},"encoding":{"x":{"field":"x","type":"quantitative","scale":{"domain":[-2500,2500],"nice":false},"axis":{"values":[-2000,-1000,0,1000,2000],"title":null,"labelFontSize":2.5,"tickSize":1.5,"labelPadding":0,"tickColor":"#999","labelColor":"#444","domain":false}},"y":{"field":"y","type":"quantitative","scale":{"domain":[0,100],"nice":false},"axis":{"tickCount":7,"title":null,"labelFontSize":2.5,"tickSize":2,"labelPadding":0.5,"tickColor":"#999","labelColor":"#444","domain":false}}}},
         {"transform":[{"filter":"datum.x === 0"}],"mark":{"type":"rule","color":"#8f8ff2","strokeWidth":0.6},"encoding":{"x":{"field":"x","type":"quantitative"}}}]},
        "resolve":{"axis":{"x":"independent","y":"independent"}}}
      ],"spacing":1}]}]}
   ],"spacing":30}
  ],"spacing":12}
 ],"spacing":0},
 {"hconcat":[
  {"width":1,"height":1,"view":{"stroke":null},"data":{"values":[{"a":0}]},"mark":{"type":"point","opacity":0},"encoding":{}},
  {"title":{"text":"E","anchor":"start","fontSize":28,"fontWeight":"bold","offset":8},
  "hconcat":[
   {"vconcat":[
     {"title":{"text":"HBV RPM","orient":"left","fontSize":11,"fontWeight":"bold","anchor":"middle","offset":3},
      "vconcat":[
       {"width":358,"height":52,"view":{"stroke":null},"data":{"name":"hbv"},"transform":[{"filter":{"field":"t","equal":"input"}},{"flatten":["x","y","d"]}],
        "encoding":{"x":{"field":"x","type":"quantitative","scale":{"domain":[0,3215],"nice":false,"zero":false},"axis":{"title":null,"labels":false,"ticks":false,"domainWidth":1.5}},"y":{"field":"y","type":"quantitative","scale":{"domain":[0,200]},"axis":{"values":[0,50,100,150,200],"labelOverlap":false,"title":null,"labelFontSize":8,"labelFontWeight":"bold","tickSize":3,"domainWidth":1.2,"labelPadding":1}}},
        "layer":[
         {"mark":{"type":"errorband","color":"#8c8c8c","band":{"color":"#8c8c8c","opacity":1},"clip":true},"encoding":{"yError":{"field":"d"}}},
         {"mark":{"type":"line","color":"#000","strokeWidth":1.1,"clip":true}},
         {"transform":[{"filter":"datum.x === 1600"}],"mark":{"type":"text","fontSize":10,"fontWeight":"bold","color":"#000"},"encoding":{"y":{"datum":168},"text":{"value":"input"}}}
        ]},
       {"width":358,"height":52,"view":{"stroke":null},"data":{"name":"hbv"},"transform":[{"filter":{"field":"t","equal":"H3K4me3"}},{"flatten":["x","y","d"]}],
        "encoding":{"x":{"field":"x","type":"quantitative","scale":{"domain":[0,3215],"nice":false,"zero":false},"axis":{"title":null,"values":[0,200,400,600,800,1000,1200,1400,1600,1800,2000,2200,2400,2600,2800,3000],"format":"d","labelOverlap":false,"labelFontSize":7.5,"labelFontWeight":"bold","tickSize":3,"domainWidth":1.5,"labelPadding":1}},"y":{"field":"y","type":"quantitative","scale":{"domain":[0,200]},"axis":{"values":[0,50,100,150,200],"labelOverlap":false,"title":null,"labelFontSize":8,"labelFontWeight":"bold","tickSize":3,"domainWidth":1.2,"labelPadding":1}}},
        "layer":[
         {"mark":{"type":"errorband","color":"#8c8c8c","band":{"color":"#8c8c8c","opacity":1},"clip":true},"encoding":{"yError":{"field":"d"}}},
         {"mark":{"type":"line","color":"#000","strokeWidth":1.1,"clip":true}},
         {"transform":[{"filter":"datum.x === 1600"}],"mark":{"type":"text","fontSize":10,"fontWeight":"bold","color":"#000"},"encoding":{"y":{"datum":168},"text":{"value":"H3K4me3"}}}
        ]}
      ],"spacing":8},
     {"width":358,"height":28,"view":{"stroke":null},"data":{"name":"genes"},"transform":[{"calculate":"(datum.a+datum.b)/2","as":"m"}],
      "layer":[
       {"mark":{"type":"rule","strokeWidth":3},"encoding":{"x":{"field":"a","type":"quantitative","scale":{"domain":[0,3215],"nice":false,"zero":false},"axis":null},"x2":{"field":"b"},"y":{"field":"lane","type":"ordinal","axis":null},"color":{"condition":[{"test":"datum.f==='preS1'","value":"#a0a0a0"},{"test":"datum.f==='preS2'","value":"#6a6a6a"}],"value":"#111"}}},
       {"mark":{"type":"text","fontSize":5,"color":"#555","dy":5.5},"encoding":{"x":{"field":"m","type":"quantitative"},"y":{"field":"lane","type":"ordinal"},"text":{"field":"f"}}}
      ]}
    ],"spacing":0},
   {"vconcat":[
     {"title":{"text":"HBV RPM","orient":"left","fontSize":11,"fontWeight":"bold","anchor":"middle","offset":3},
      "vconcat":[
       {"width":358,"height":52,"view":{"stroke":null},"data":{"name":"hbv"},"transform":[{"filter":{"field":"t","equal":"H3K9me3"}},{"flatten":["x","y","d"]}],
        "encoding":{"x":{"field":"x","type":"quantitative","scale":{"domain":[0,3215],"nice":false,"zero":false},"axis":{"title":null,"labels":false,"ticks":false,"domainWidth":1.5}},"y":{"field":"y","type":"quantitative","scale":{"domain":[0,200]},"axis":{"values":[0,50,100,150,200],"labelOverlap":false,"title":null,"labelFontSize":8,"labelFontWeight":"bold","tickSize":3,"domainWidth":1.2,"labelPadding":1}}},
        "layer":[
         {"mark":{"type":"errorband","color":"#8c8c8c","band":{"color":"#8c8c8c","opacity":1},"clip":true},"encoding":{"yError":{"field":"d"}}},
         {"mark":{"type":"line","color":"#000","strokeWidth":1.1,"clip":true}},
         {"transform":[{"filter":"datum.x === 1600"}],"mark":{"type":"text","fontSize":10,"fontWeight":"bold","color":"#000"},"encoding":{"y":{"datum":168},"text":{"value":"H3K9me3"}}}
        ]},
       {"width":358,"height":52,"view":{"stroke":null},"data":{"name":"hbv"},"transform":[{"filter":{"field":"t","equal":"H3K27me3"}},{"flatten":["x","y","d"]}],
        "encoding":{"x":{"field":"x","type":"quantitative","scale":{"domain":[0,3215],"nice":false,"zero":false},"axis":{"title":null,"values":[0,200,400,600,800,1000,1200,1400,1600,1800,2000,2200,2400,2600,2800,3000],"format":"d","labelOverlap":false,"labelFontSize":7.5,"labelFontWeight":"bold","tickSize":3,"domainWidth":1.5,"labelPadding":1}},"y":{"field":"y","type":"quantitative","scale":{"domain":[0,200]},"axis":{"values":[0,50,100,150,200],"labelOverlap":false,"title":null,"labelFontSize":8,"labelFontWeight":"bold","tickSize":3,"domainWidth":1.2,"labelPadding":1}}},
        "layer":[
         {"mark":{"type":"errorband","color":"#8c8c8c","band":{"color":"#8c8c8c","opacity":1},"clip":true},"encoding":{"yError":{"field":"d"}}},
         {"mark":{"type":"line","color":"#000","strokeWidth":1.1,"clip":true}},
         {"transform":[{"filter":"datum.x === 1600"}],"mark":{"type":"text","fontSize":10,"fontWeight":"bold","color":"#000"},"encoding":{"y":{"datum":168},"text":{"value":"H3K27me3"}}}
        ]}
      ],"spacing":8},
     {"width":358,"height":28,"view":{"stroke":null},"data":{"name":"genes"},"transform":[{"calculate":"(datum.a+datum.b)/2","as":"m"}],
      "layer":[
       {"mark":{"type":"rule","strokeWidth":3},"encoding":{"x":{"field":"a","type":"quantitative","scale":{"domain":[0,3215],"nice":false,"zero":false},"axis":null},"x2":{"field":"b"},"y":{"field":"lane","type":"ordinal","axis":null},"color":{"condition":[{"test":"datum.f==='preS1'","value":"#a0a0a0"},{"test":"datum.f==='preS2'","value":"#6a6a6a"}],"value":"#111"}}},
       {"mark":{"type":"text","fontSize":5,"color":"#555","dy":5.5},"encoding":{"x":{"field":"m","type":"quantitative"},"y":{"field":"lane","type":"ordinal"},"text":{"field":"f"}}}
      ]}
    ],"spacing":0}
  ],"spacing":6}
 ],"spacing":0}
 ],"spacing":0}
],
"spacing":12
}
